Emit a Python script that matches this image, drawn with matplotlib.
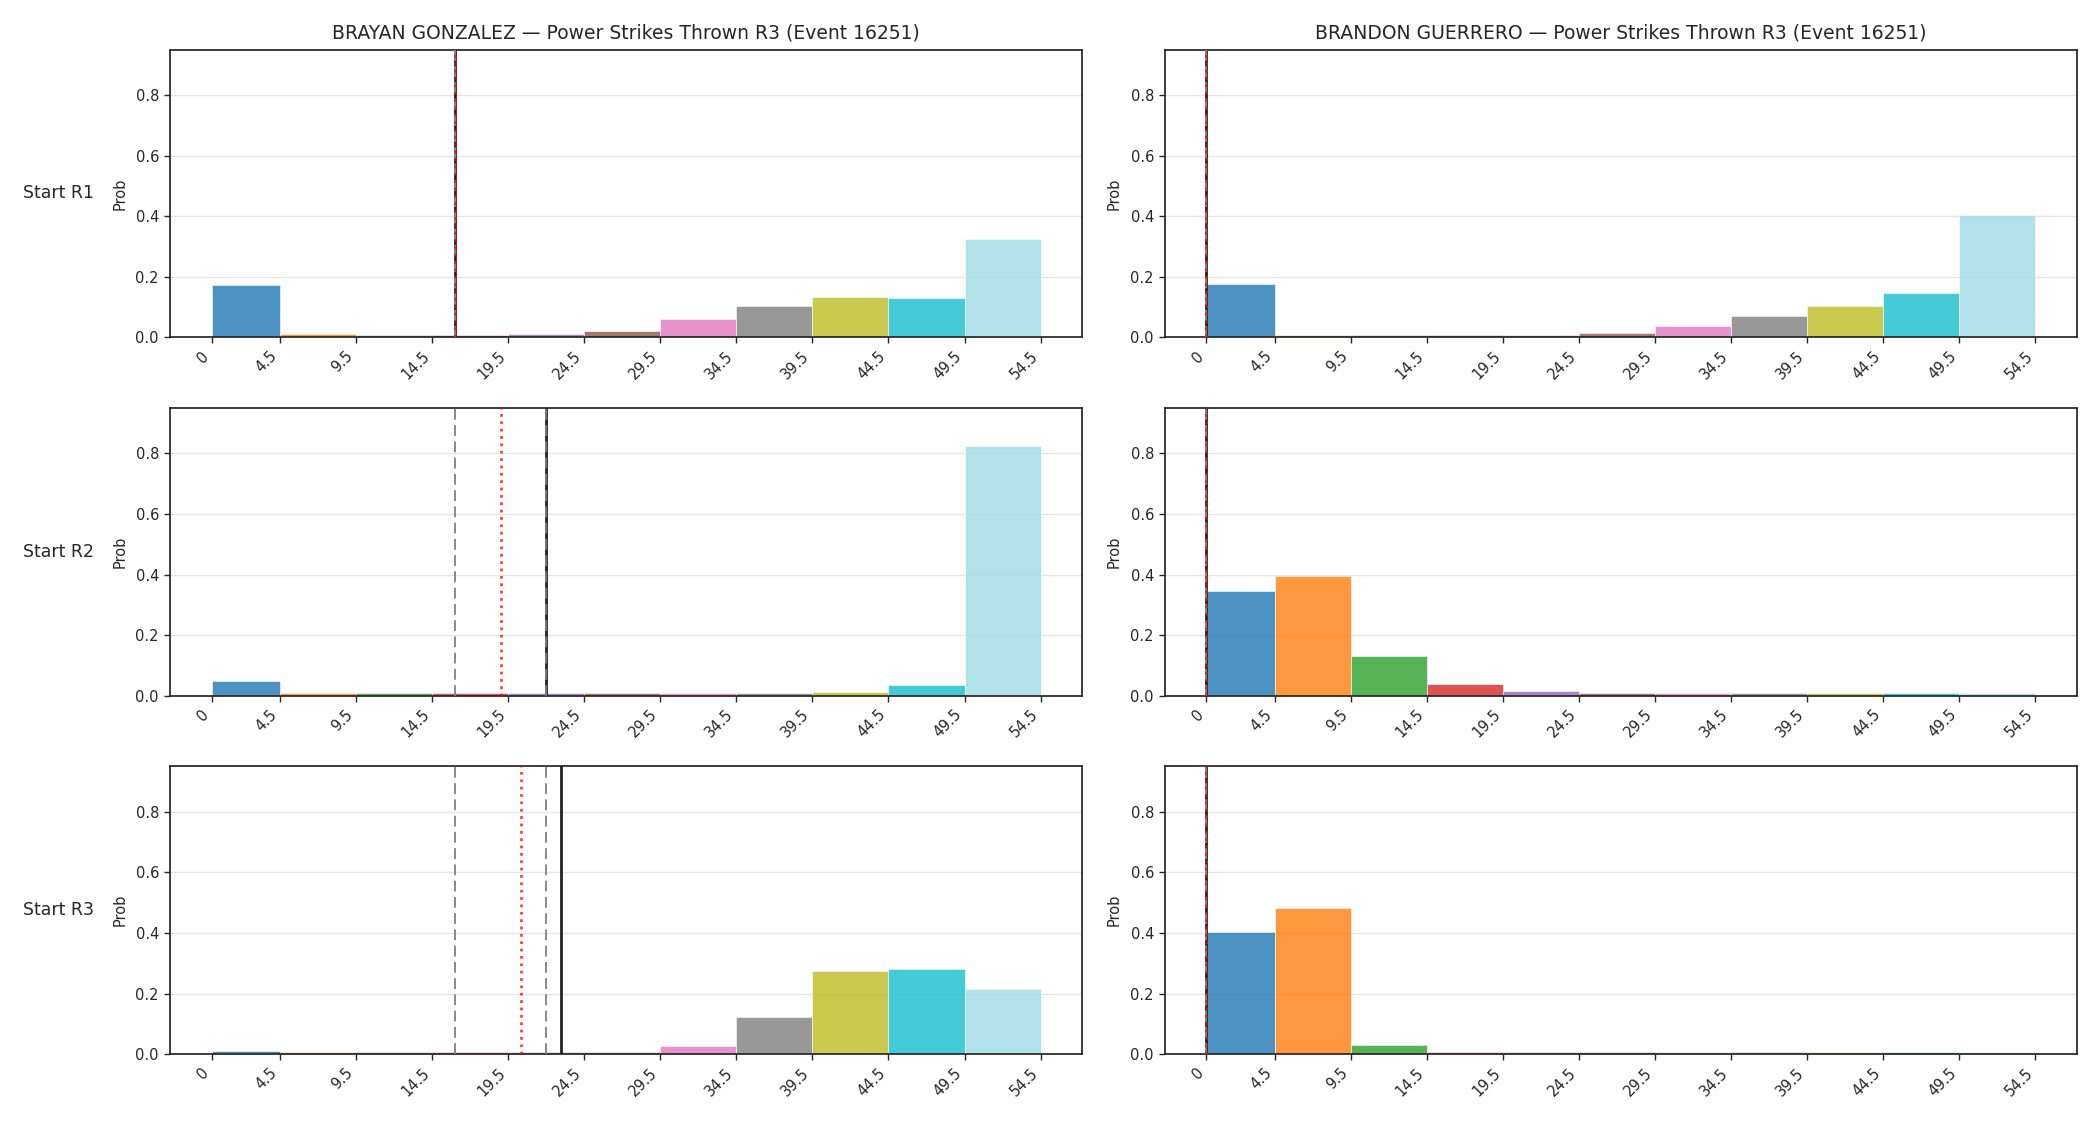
import numpy as np
import matplotlib.pyplot as plt

# bin edges for strikes thrown in R3
edges = [0, 4.5, 9.5, 14.5, 19.5, 24.5, 29.5, 34.5, 39.5, 44.5, 49.5, 54.5]
tick_labels = ["0", "4.5", "9.5", "14.5", "19.5", "24.5", "29.5", "34.5", "39.5", "44.5", "49.5", "54.5"]
colors = ["#1f77b4", "#ff7f0e", "#2ca02c", "#d62728", "#9467bd", "#8c564b",
          "#e377c2", "#7f7f7f", "#bcbd22", "#17becf", "#9edae5"]

fighters = ["BRAYAN GONZALEZ", "BRANDON GUERRERO"]
rows = ["Start R1", "Start R2", "Start R3"]

# probabilities per bin, one list per start round
probs_a = [
    [0.172, 0.011, 0.008, 0.008, 0.011, 0.021, 0.062, 0.102, 0.132, 0.129, 0.324],
    [0.0475, 0.008, 0.008, 0.008, 0.008, 0.008, 0.008, 0.008, 0.011, 0.034, 0.823],
    [0.009, 0.008, 0.008, 0.008, 0.008, 0.008, 0.026, 0.122, 0.273, 0.281, 0.215],
]
probs_b = [
    [0.177, 0.008, 0.008, 0.008, 0.008, 0.013, 0.036, 0.069, 0.102, 0.146, 0.403],
    [0.346, 0.396, 0.132, 0.039, 0.017, 0.008, 0.008, 0.008, 0.008, 0.008, 0.008],
    [0.402, 0.481, 0.03, 0.008, 0.008, 0.008, 0.008, 0.008, 0.008, 0.008, 0.008],
]

# reference markers: actual (solid), expected (dotted), band (dashed)
actual_a = [16.0, 22.0, 23.0]
expected_a = [16.0, 19.05, 20.35]
lo_a = [16.0, 16.0, 16.0]
hi_a = [16.0, 22.0, 22.0]
actual_b = [0.0, 0.0, 0.0]
expected_b = [0.0, 0.0, 0.0]
lo_b = [0.0, 0.0, 0.0]
hi_b = [0.0, 0.0, 0.0]

fig, axes = plt.subplots(3, 2, figsize=(21, 11.25), dpi=100)
fig.subplots_adjust(left=0.081, right=0.989, top=0.956, bottom=0.063,
                    wspace=0.091, hspace=0.245)

edges_arr = np.array(edges)
widths = np.diff(edges_arr)
all_probs = [probs_a, probs_b]
marks = [(actual_a, expected_a, lo_a, hi_a), (actual_b, expected_b, lo_b, hi_b)]

for c in range(2):
    for r in range(3):
        ax = axes[r, c]
        ax.bar(edges_arr[:-1], all_probs[c][r], width=widths, align="edge",
               color=colors, alpha=0.8, edgecolor="white", linewidth=0.5, zorder=2)
        act, exp_, lo, hi = marks[c]
        ax.axvline(act[r], color="#222222", lw=2, zorder=3)
        ax.axvline(lo[r], color="grey", ls=(0, (6, 3)), lw=1.3, zorder=3)
        ax.axvline(hi[r], color="grey", ls=(0, (6, 3)), lw=1.3, zorder=3)
        ax.axvline(exp_[r], color="red", ls=":", lw=2, alpha=0.75, zorder=4)
        ax.set_ylim(0, 0.95)
        ax.set_yticks([0, 0.2, 0.4, 0.6, 0.8])
        ax.set_xticks(edges)
        ax.set_xticklabels(tick_labels, rotation=45, ha="right")
        ax.tick_params(labelsize=10.5, colors="#262626", width=1, length=4.5)
        ax.grid(axis="y", color="#e5e5e5", lw=1, zorder=0)
        ax.set_axisbelow(True)
        for s in ax.spines.values():
            s.set_linewidth(1.25)
            s.set_color("#262626")
        ax.set_ylabel("Prob", fontsize=10.5, color="#262626", labelpad=6)
        if r == 0:
            ax.set_title(f"{fighters[c]} \u2014 Power Strikes Thrown R3 (Event 16251)",
                         fontsize=13.5, color="#262626", pad=8)

for r in range(3):
    pos = axes[r, 0].get_position()
    fig.text(0.011, (pos.y0 + pos.y1) / 2, rows[r], ha="left", va="center",
             fontsize=12.5, color="#262626")

plt.savefig("out.png")
